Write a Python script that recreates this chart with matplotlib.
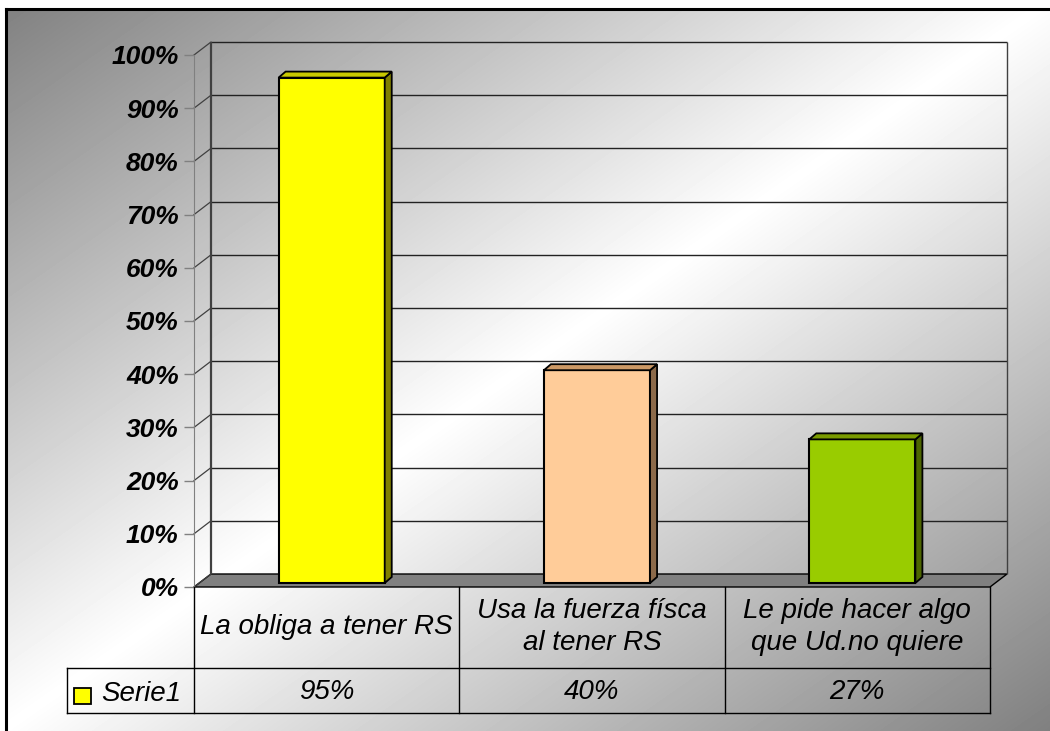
import numpy as np
import matplotlib.pyplot as plt
from matplotlib.patches import Polygon, Rectangle
from matplotlib.lines import Line2D
from matplotlib.transforms import ScaledTranslation, IdentityTransform
from matplotlib.ticker import PercentFormatter

plt.rcParams['font.family'] = ['Liberation Sans', 'DejaVu Sans']

# Datos
categorias = ['La obliga a tener RS', 'Usa la fuerza físca\nal tener RS',
              'Le pide hacer algo\nque Ud.no quiere']
valores = [95, 40, 27]
serie = 'Serie1'
colores = ['#FFFF00', '#FFCC99', '#99CC00']
colores_lado = ['#808000', '#8C6A4A', '#4D6600']
colores_tope = ['#C8C800', '#CC9966', '#7A9A00']

W, H = 1050, 731
fig = plt.figure(figsize=(W / 100, H / 100), dpi=100)
fig.patch.set_facecolor('white')


def fx(x):
    return x / W


def fy(y):
    return 1 - y / H


# Fondo con degradado diagonal (dentro del marco)
bg = fig.add_axes([fx(6), 0, 1 - fx(6), fy(9)])
bg.axis('off')
yy, xx = np.mgrid[9:H, 6:W]
t = (xx / W + yy / H) / 2
g = 1 - 0.5 * np.abs(2 * t - 1)
bg.imshow(g, cmap='gray', vmin=0, vmax=1, aspect='auto', extent=[0, 1, 0, 1])
bg.set_xlim(0, 1)
bg.set_ylim(0, 1)
fig.add_artist(Line2D([fx(6), fx(6)], [0, fy(9)], color='black', lw=2.2))
fig.add_artist(Line2D([fx(6), 1], [fy(9), fy(9)], color='black', lw=2.2))

# Ejes (plano frontal)
ax = fig.add_axes([fx(194), fy(587), fx(990) - fx(194), fy(55) - fy(587)])
ax.patch.set_visible(False)
ax.set_xlim(-0.5, 2.5)
ax.set_ylim(0, 100)
for s in ['top', 'right', 'bottom']:
    ax.spines[s].set_visible(False)
ax.spines['left'].set_color('#808080')
ax.set_xticks([])
ticks = np.arange(0, 101, 10)
ax.set_yticks(ticks)
ax.yaxis.set_major_formatter(PercentFormatter(decimals=0))
ax.tick_params(axis='y', length=7, width=1, color='#808080', pad=4,
               labelsize=19)
for lab in ax.get_yticklabels():
    lab.set_fontweight('bold')
    lab.set_fontstyle('italic')

dpi = fig.dpi
back = ax.transData + ScaledTranslation(17 / dpi, 13 / dpi, fig.dpi_scale_trans)
mid = ax.transData + ScaledTranslation(5 / dpi, 4 / dpi, fig.dpi_scale_trans)
ident = IdentityTransform()

# Piso
p = [ax.transData.transform((-0.5, 0)), ax.transData.transform((2.5, 0)),
     back.transform((2.5, 0)), back.transform((-0.5, 0))]
ax.add_patch(Polygon(p, closed=True, facecolor='#808080', edgecolor='black',
                     lw=1, transform=ident, clip_on=False, zorder=1))

# Pared del fondo: líneas de cuadrícula
ax.hlines(ticks[1:], -0.5, 2.5, colors='#222222', lw=1, transform=back,
          clip_on=False, zorder=1)
ax.vlines([-0.5], 0, 100, colors='#404040', lw=1.6, transform=back,
          clip_on=False, zorder=1)
ax.vlines([2.5], 0, 100, colors='#404040', lw=1, transform=back,
          clip_on=False, zorder=1)
for v in ticks:
    a = ax.transData.transform((-0.5, v))
    b = back.transform((-0.5, v))
    ax.add_line(Line2D([a[0], b[0]], [a[1], b[1]], color='#404040', lw=0.9,
                       transform=ident, clip_on=False, zorder=1))

# Barras
x = np.arange(len(valores))
ancho = 0.4
ax.bar(x, valores, width=ancho, color=colores, edgecolor='black', lw=1.5,
       transform=mid, clip_on=False, zorder=3)
dx, dy = 7, 6
for i, v in enumerate(valores):
    x0, x1 = i - ancho / 2, i + ancho / 2
    bl = mid.transform((x1, 0))
    tl = mid.transform((x1, v))
    tr0 = mid.transform((x0, v))
    lado = [bl, tl, (tl[0] + dx, tl[1] + dy), (bl[0] + dx, bl[1] + dy)]
    tope = [tr0, tl, (tl[0] + dx, tl[1] + dy), (tr0[0] + dx, tr0[1] + dy)]
    ax.add_patch(Polygon(lado, closed=True, facecolor=colores_lado[i],
                         edgecolor='black', lw=1.3, transform=ident,
                         clip_on=False, zorder=3))
    ax.add_patch(Polygon(tope, closed=True, facecolor=colores_tope[i],
                         edgecolor='black', lw=1.3, transform=ident,
                         clip_on=False, zorder=3))

# Tabla de datos
bordes = [ax.transData.transform((e, 0))[0] / dpi / (W / 100) for e in
          [-0.5, 0.5, 1.5, 2.5]]
lc = 'black'
for e in bordes:
    fig.add_artist(Line2D([e, e], [fy(587), fy(713)], color=lc, lw=1))
for yl in [668, 713]:
    fig.add_artist(Line2D([fx(67), bordes[-1]], [fy(yl), fy(yl)], color=lc, lw=1))
fig.add_artist(Line2D([fx(67), fx(67)], [fy(668), fy(713)], color=lc, lw=1))

for i, (c, v) in enumerate(zip(categorias, valores)):
    xc = (bordes[i] + bordes[i + 1]) / 2
    fig.text(xc, fy(627), c, ha='center', va='center', fontsize=20,
             style='italic', linespacing=1.25)
    fig.text(xc, fy(692), f'{v}%', ha='center', va='center', fontsize=20,
             style='italic')

fig.add_artist(Rectangle((fx(74), fy(704)), fx(91) - fx(74), fy(688) - fy(704),
                         facecolor=colores[0], edgecolor='black', lw=1.3,
                         transform=fig.transFigure))
fig.text(fx(101), fy(694), serie, ha='left', va='center', fontsize=20,
         style='italic')

fig.savefig('out.png', dpi=100)
